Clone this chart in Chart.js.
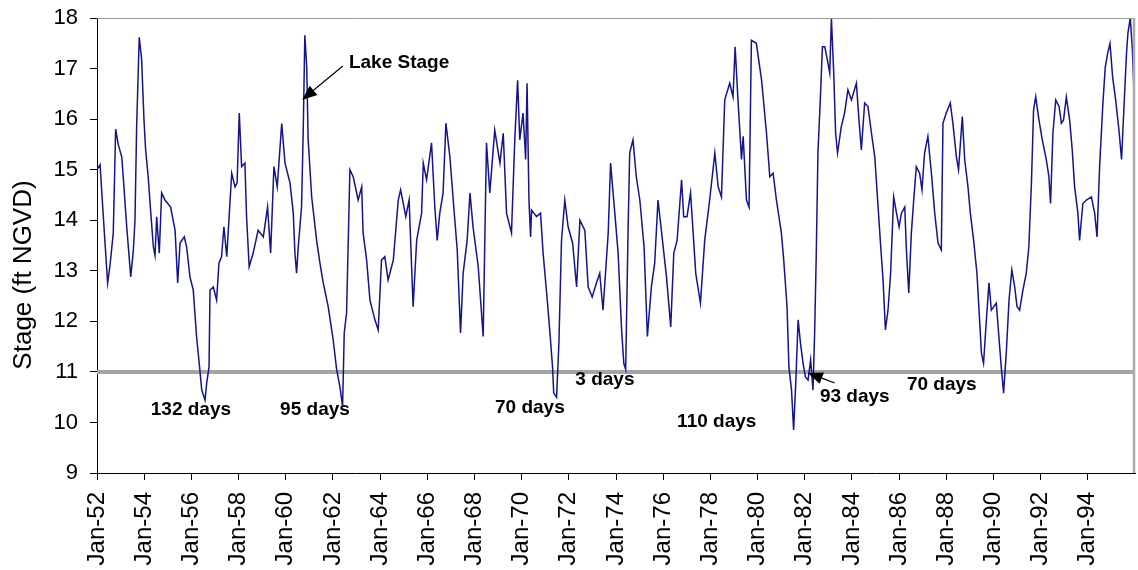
<!DOCTYPE html>
<html>
<head>
<meta charset="utf-8">
<title>Lake Stage</title>
<script src="https://cdn.jsdelivr.net/npm/chart.js@4.4.1/dist/chart.umd.min.js"></script>
<style>
  html, body { margin: 0; padding: 0; background: #fff; }
  #wrap { width: 1138px; height: 570px; }
</style>
</head>
<body>
<div id="wrap"><canvas id="stageChart" width="1138" height="570"></canvas></div>
<script>
// lake stage: decimal year -> stage (ft NGVD)
const stageYear = [
  1952.00, 1952.13, 1952.27, 1952.45, 1952.55, 1952.69, 1952.79, 1952.90, 1953.05, 1953.14,
  1953.26, 1953.43, 1953.54, 1953.61, 1953.68, 1953.79, 1953.89, 1953.99, 1954.06, 1954.17,
  1954.28, 1954.39, 1954.46, 1954.53, 1954.64, 1954.74, 1954.88, 1955.12, 1955.31, 1955.42,
  1955.52, 1955.70, 1955.80, 1955.94, 1956.08, 1956.22, 1956.36, 1956.44, 1956.58, 1956.65,
  1956.75, 1956.79, 1956.93, 1957.07, 1957.17, 1957.28, 1957.38, 1957.50, 1957.71, 1957.85,
  1957.94, 1958.03, 1958.13, 1958.27, 1958.34, 1958.45, 1958.62, 1958.83, 1959.05, 1959.23,
  1959.36, 1959.50, 1959.64, 1959.83, 1959.97, 1960.18, 1960.32, 1960.39, 1960.46, 1960.53,
  1960.67, 1960.74, 1960.81, 1960.89, 1960.95, 1961.10, 1961.31, 1961.45, 1961.59, 1961.80,
  1962.01, 1962.16, 1962.30, 1962.41, 1962.48, 1962.58, 1962.72, 1962.86, 1963.07, 1963.22,
  1963.28, 1963.43, 1963.57, 1963.78, 1963.92, 1964.06, 1964.20, 1964.34, 1964.56, 1964.77,
  1964.87, 1965.09, 1965.23, 1965.40, 1965.55, 1965.76, 1965.83, 1965.97, 1966.18, 1966.32,
  1966.42, 1966.53, 1966.67, 1966.79, 1966.96, 1967.10, 1967.27, 1967.41, 1967.52, 1967.69,
  1967.81, 1967.94, 1968.16, 1968.37, 1968.51, 1968.65, 1968.86, 1969.08, 1969.22, 1969.36,
  1969.57, 1969.71, 1969.83, 1969.92, 1970.06, 1970.17, 1970.23, 1970.31, 1970.38, 1970.42,
  1970.63, 1970.80, 1970.91, 1971.06, 1971.19, 1971.31, 1971.36, 1971.48, 1971.58, 1971.69,
  1971.83, 1971.97, 1972.16, 1972.33, 1972.47, 1972.68, 1972.82, 1972.99, 1973.17, 1973.31,
  1973.45, 1973.67, 1973.77, 1973.95, 1974.09, 1974.23, 1974.33, 1974.41, 1974.51, 1974.58,
  1974.72, 1974.86, 1975.01, 1975.19, 1975.33, 1975.50, 1975.64, 1975.78, 1975.97, 1976.14,
  1976.32, 1976.45, 1976.59, 1976.78, 1976.87, 1977.01, 1977.16, 1977.27, 1977.38, 1977.58,
  1977.76, 1977.97, 1978.19, 1978.33, 1978.47, 1978.61, 1978.82, 1978.96, 1979.05, 1979.17,
  1979.32, 1979.39, 1979.53, 1979.64, 1979.74, 1979.95, 1980.17, 1980.38, 1980.52, 1980.66,
  1980.80, 1981.01, 1981.11, 1981.25, 1981.33, 1981.44, 1981.53, 1981.62, 1981.72, 1981.82,
  1981.93, 1982.03, 1982.14, 1982.25, 1982.35, 1982.42, 1982.49, 1982.56, 1982.66, 1982.75,
  1982.85, 1982.96, 1983.06, 1983.13, 1983.23, 1983.31, 1983.39, 1983.55, 1983.69, 1983.83,
  1983.98, 1984.19, 1984.30, 1984.40, 1984.54, 1984.68, 1984.83, 1984.97, 1985.11, 1985.21,
  1985.32, 1985.42, 1985.53, 1985.64, 1985.77, 1985.89, 1986.00, 1986.10, 1986.24, 1986.31,
  1986.41, 1986.52, 1986.62, 1986.73, 1986.87, 1986.97, 1987.08, 1987.22, 1987.37, 1987.51,
  1987.65, 1987.79, 1987.86, 1988.00, 1988.17, 1988.28, 1988.43, 1988.52, 1988.68, 1988.78,
  1988.92, 1989.02, 1989.16, 1989.30, 1989.42, 1989.49, 1989.58, 1989.70, 1989.81, 1989.91,
  1990.12, 1990.23, 1990.33, 1990.43, 1990.55, 1990.66, 1990.78, 1990.90, 1991.00, 1991.11,
  1991.25, 1991.39, 1991.50, 1991.61, 1991.70, 1991.79, 1991.93, 1992.07, 1992.24, 1992.35,
  1992.42, 1992.52, 1992.64, 1992.78, 1992.88, 1992.97, 1993.09, 1993.23, 1993.34, 1993.44,
  1993.58, 1993.65, 1993.79, 1993.94, 1994.15, 1994.29, 1994.39, 1994.50, 1994.64, 1994.74,
  1994.84, 1994.94, 1995.05, 1995.18, 1995.32, 1995.43, 1995.56, 1995.64, 1995.70, 1995.80,
  1995.89, 1995.97
];
const stageValue = [
  15.00, 15.10, 14.06, 12.76, 13.10, 13.75, 15.80, 15.50, 15.25, 14.67,
  13.87, 12.88, 13.40, 14.00, 15.85, 17.62, 17.20, 16.00, 15.40, 14.86,
  14.14, 13.47, 13.30, 14.07, 13.35, 14.54, 14.40, 14.26, 13.80, 12.76,
  13.55, 13.67, 13.47, 12.88, 12.62, 11.70, 11.04, 10.64, 10.44, 10.78,
  11.10, 12.62, 12.68, 12.42, 13.15, 13.28, 13.87, 13.28, 14.93, 14.66,
  14.74, 16.12, 15.06, 15.13, 14.07, 13.08, 13.35, 13.80, 13.67, 14.26,
  13.35, 15.06, 14.66, 15.91, 15.13, 14.74, 14.14, 13.35, 12.95, 13.47,
  14.26, 15.72, 17.66, 17.03, 15.60, 14.46, 13.60, 13.15, 12.76, 12.29,
  11.64, 11.04, 10.70, 10.31, 11.77, 12.17, 15.00, 14.86, 14.40, 14.66,
  13.75, 13.21, 12.42, 12.03, 11.83, 13.21, 13.28, 12.82, 13.21, 14.40,
  14.60, 14.07, 14.40, 12.29, 13.60, 14.14, 15.13, 14.80, 15.53, 14.26,
  13.60, 14.14, 14.54, 15.92, 15.25, 14.40, 13.41, 11.77, 12.95, 13.60,
  14.54, 13.87, 13.08, 11.70, 15.53, 14.54, 15.78, 15.13, 15.72, 14.14,
  13.75, 15.59, 16.77, 15.59, 16.12, 15.20, 16.71, 14.40, 13.67, 14.20,
  14.07, 14.14, 13.35, 12.56, 11.83, 11.10, 10.58, 10.50, 11.57, 13.60,
  14.40, 13.87, 13.55, 12.68, 14.00, 13.80, 12.68, 12.48, 12.76, 12.95,
  12.22, 13.75, 15.13, 14.14, 13.35, 11.89, 11.17, 11.05, 13.75, 15.33,
  15.59, 14.86, 14.40, 13.47, 11.70, 12.68, 13.15, 14.40, 13.60, 12.88,
  11.89, 13.35, 13.60, 14.80, 14.07, 14.07, 14.54, 13.75, 12.95, 12.36,
  13.60, 14.40, 15.33, 14.66, 14.46, 16.38, 16.71, 16.44, 17.43, 16.38,
  15.20, 15.66, 14.40, 14.26, 17.56, 17.50, 16.77, 15.72, 14.86, 14.93,
  14.40, 13.75, 13.21, 12.29, 11.10, 10.64, 9.85, 10.78, 12.03, 11.57,
  11.17, 10.90, 10.84, 11.24, 10.64, 11.77, 13.35, 15.33, 16.38, 17.43,
  17.43, 17.17, 16.91, 18.00, 16.91, 15.72, 15.33, 15.85, 16.12, 16.58,
  16.38, 16.71, 15.98, 15.39, 16.32, 16.25, 15.72, 15.25, 14.26, 13.55,
  12.82, 11.83, 12.22, 12.95, 14.46, 14.14, 13.87, 14.14, 14.26, 13.41,
  12.56, 13.75, 14.40, 15.06, 14.93, 14.60, 15.33, 15.66, 14.93, 14.14,
  13.55, 13.41, 15.92, 16.12, 16.32, 15.92, 15.25, 15.00, 16.05, 15.20,
  14.66, 14.14, 13.60, 12.95, 11.96, 11.37, 11.17, 12.03, 12.76, 12.22,
  12.36, 11.70, 11.10, 10.58, 11.43, 12.42, 13.02, 12.68, 12.29, 12.22,
  12.62, 12.95, 13.47, 14.74, 16.18, 16.44, 15.98, 15.59, 15.20, 14.86,
  14.33, 15.72, 16.38, 16.25, 15.92, 15.98, 16.44, 15.98, 15.39, 14.66,
  14.14, 13.60, 14.33, 14.40, 14.46, 14.14, 13.67, 15.06, 16.32, 17.03,
  17.30, 17.50, 16.84, 16.38, 15.78, 15.20, 16.51, 17.30, 17.70, 18.00,
  17.37, 16.38
];

// 11 ft reference line
const thresholdYear = [1952, 1996];
const thresholdValue = [11, 11];

const xTickYears = [1952, 1954, 1956, 1958, 1960, 1962, 1964, 1966, 1968, 1970, 1972,
                    1974, 1976, 1978, 1980, 1982, 1984, 1986, 1988, 1990, 1992, 1994];
const xTickLabels = ['Jan-52', 'Jan-54', 'Jan-56', 'Jan-58', 'Jan-60', 'Jan-62', 'Jan-64',
                     'Jan-66', 'Jan-68', 'Jan-70', 'Jan-72', 'Jan-74', 'Jan-76', 'Jan-78',
                     'Jan-80', 'Jan-82', 'Jan-84', 'Jan-86', 'Jan-88', 'Jan-90', 'Jan-92', 'Jan-94'];

// text notes on the plot
const noteText = ['Lake Stage', '132 days', '95 days', '70 days', '3 days', '110 days', '93 days', '70 days'];
const noteYear = [1962.68, 1955.98, 1961.24, 1970.35, 1973.53, 1978.27, 1984.12, 1987.81];
const noteStage = [17.11, 10.25, 10.25, 10.29, 10.84, 10.01, 10.50, 10.74];

// arrows: tail -> head
const arrowFromYear = [1962.42, 1983.27];
const arrowFromStage = [17.05, 10.78];
const arrowToYear = [1960.69, 1982.13];
const arrowToStage = [16.38, 10.98];

const FONT = '"Liberation Sans", Arial, Helvetica, sans-serif';
Chart.defaults.font.family = FONT;
Chart.defaults.color = '#000';

function drawArrow(ctx, x1, y1, x2, y2) {
    const ang = Math.atan2(y2 - y1, x2 - x1);
    const len = 15, half = 6;
    const bx = x2 - len * Math.cos(ang), by = y2 - len * Math.sin(ang);
    ctx.beginPath();
    ctx.moveTo(x1, y1);
    ctx.lineTo(bx, by);
    ctx.stroke();
    ctx.beginPath();
    ctx.moveTo(x2, y2);
    ctx.lineTo(bx + half * Math.sin(ang), by - half * Math.cos(ang));
    ctx.lineTo(bx - half * Math.sin(ang), by + half * Math.cos(ang));
    ctx.closePath();
    ctx.fill();
}

const decorations = {
    id: 'decorations',
    afterDraw(chart) {
        const { ctx, chartArea: a, scales: { x, y } } = chart;
        ctx.save();
        // frame on top and right
        ctx.strokeStyle = '#999';
        ctx.lineWidth = 1;
        ctx.beginPath();
        ctx.moveTo(a.left, a.top + 0.5);
        ctx.lineTo(a.right, a.top + 0.5);
        ctx.stroke();
        ctx.strokeStyle = '#aaa';
        ctx.lineWidth = 2.5;
        ctx.beginPath();
        ctx.moveTo(a.right - 1, a.top);
        ctx.lineTo(a.right - 1, a.bottom);
        ctx.stroke();

        // notes
        ctx.fillStyle = '#000';
        ctx.font = 'bold 19px ' + FONT;
        ctx.textBaseline = 'middle';
        noteText.forEach((t, i) => {
            ctx.textAlign = i === 0 ? 'left' : 'center';
            ctx.fillText(t, x.getPixelForValue(noteYear[i]), y.getPixelForValue(noteStage[i]));
        });

        // arrows
        ctx.strokeStyle = '#000';
        ctx.lineWidth = 1.2;
        arrowFromYear.forEach((_, i) => {
            drawArrow(ctx,
                x.getPixelForValue(arrowFromYear[i]), y.getPixelForValue(arrowFromStage[i]),
                x.getPixelForValue(arrowToYear[i]), y.getPixelForValue(arrowToStage[i]));
        });

        // y axis title
        ctx.translate(24, 275);
        ctx.rotate(-Math.PI / 2);
        ctx.font = '26px ' + FONT;
        ctx.textAlign = 'center';
        ctx.fillText('Stage (ft NGVD)', 0, 0);
        ctx.restore();
    }
};

const ctx = document.getElementById('stageChart').getContext('2d');
const stageChart = new Chart(ctx, {
    type: 'line',
    data: {
        datasets: [
            {
                label: 'Lake Stage',
                data: stageYear.map((yr, i) => ({ x: yr, y: stageValue[i] })),
                borderColor: '#14148c',
                borderWidth: 1.5,
                pointRadius: 0,
                tension: 0,
                order: 1
            },
            {
                label: '11 ft',
                data: thresholdYear.map((yr, i) => ({ x: yr, y: thresholdValue[i] })),
                borderColor: '#a4a4a4',
                borderWidth: 4,
                pointRadius: 0,
                order: 2
            }
        ]
    },
    options: {
        responsive: false,
        animation: false,
        layout: { padding: { top: 18, right: 3, left: 0, bottom: 0 } },
        plugins: {
            legend: { display: false },
            tooltip: { enabled: false }
        },
        scales: {
            x: {
                type: 'linear',
                min: 1952,
                max: 1996,
                afterBuildTicks: (s) => { s.ticks = xTickYears.map(v => ({ value: v })); },
                afterFit: (s) => { s.height = 97; s.paddingLeft = 0; s.paddingRight = 0; },
                border: { color: '#000', width: 1 },
                grid: { drawOnChartArea: false, color: '#000', tickLength: 7 },
                ticks: {
                    minRotation: 90,
                    maxRotation: 90,
                    padding: 12,
                    autoSkip: false,
                    font: { size: 24 },
                    callback: (v) => xTickLabels[xTickYears.indexOf(v)] || ''
                }
            },
            y: {
                min: 9,
                max: 18,
                afterFit: (s) => { s.width = 97; s.paddingTop = 0; s.paddingBottom = 0; },
                border: { color: '#000', width: 1 },
                grid: { drawOnChartArea: false, color: '#000', tickLength: 7 },
                ticks: { stepSize: 1, padding: 12, font: { size: 22 } }
            }
        }
    },
    plugins: [decorations]
});
</script>
</body>
</html>
